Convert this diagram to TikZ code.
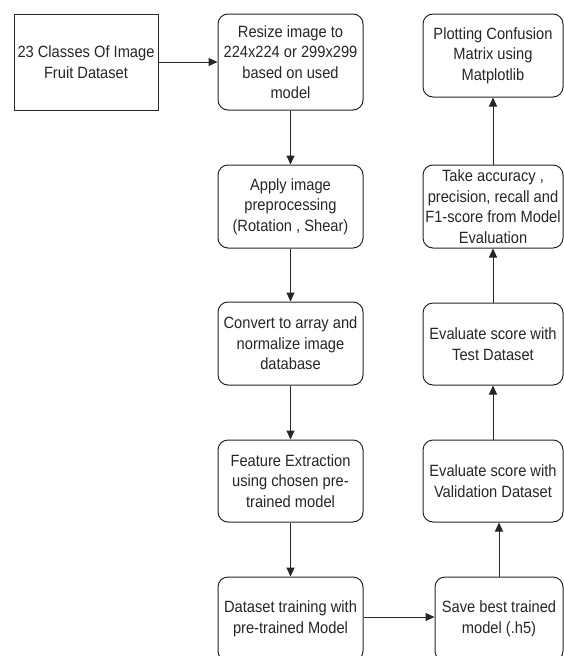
\documentclass[tikz,border=0pt]{standalone}
\usepackage{fontspec}
\setmainfont{Liberation Sans}[FakeStretch=0.9]
\usetikzlibrary{arrows.meta}

\begin{document}
\begin{tikzpicture}[x=1pt,y=-1pt,
	box/.style={draw=black!85,line width=1pt,rounded corners=10pt,align=center,
		text=black!85,font=\fontsize{16.3}{20.5}\selectfont,inner sep=0pt},
	flow/.style={draw=black!85,line width=1pt,-{Triangle[length=9pt,width=8pt]}}]
\useasboundingbox (0,0) rectangle (564,656);
\clip (0,0) rectangle (564,656);
	% left column
	\node[box,rounded corners=0pt,minimum width=144pt,minimum height=96pt] (data) at (86,62)
		{23 Classes Of Image\\Fruit Dataset};
	% middle column
	\node[box,minimum width=145pt,minimum height=96pt] (resize) at (290.5,62)
		{Resize image to\\224x224 or 299x299\\based on used\\model};
	\node[box,minimum width=145pt,minimum height=83pt] (prep) at (290.5,206.5)
		{Apply image\\preprocessing\\(Rotation , Shear)};
	\node[box,minimum width=145pt,minimum height=83pt] (norm) at (290.5,343.5)
		{Convert to array and\\normalize image\\database};
	\node[box,minimum width=145pt,minimum height=82pt] (feat) at (290.5,481)
		{Feature Extraction\\using chosen pre-\\trained model};
	\node[box,minimum width=145pt,minimum height=84pt] (train) at (290.5,619)
		{Dataset training with\\pre-trained Model};
	% right column
	\node[box,minimum width=140pt,minimum height=83pt] (plot) at (493,55.5)
		{Plotting Confusion\\Matrix using\\Matplotlib};
	\node[box,minimum width=140pt,minimum height=83pt] (score) at (493,206.5)
		{Take accuracy ,\\precision, recall and\\F1-score from Model\\Evaluation};
	\node[box,minimum width=140pt,minimum height=82pt] (test) at (493,344)
		{Evaluate score with\\Test Dataset};
	\node[box,minimum width=140pt,minimum height=82pt] (valid) at (493,481)
		{Evaluate score with\\Validation Dataset};
	\node[box,minimum width=128pt,minimum height=84pt] (save) at (499,619)
		{Save best trained\\model (.h5)};
	% arrows
	\draw[flow] (data) -- (resize);
	\draw[flow] (resize) -- (prep);
	\draw[flow] (prep) -- (norm);
	\draw[flow] (norm) -- (feat);
	\draw[flow] (feat) -- (train);
	\draw[flow] (train.east |- 0,617) -- (save.west |- 0,617);
	\draw[flow] (save.north) -- (save.north |- valid.south);
	\draw[flow] (valid) -- (test);
	\draw[flow] (test) -- (score);
	\draw[flow] (score) -- (plot);
\end{tikzpicture}
\end{document}
